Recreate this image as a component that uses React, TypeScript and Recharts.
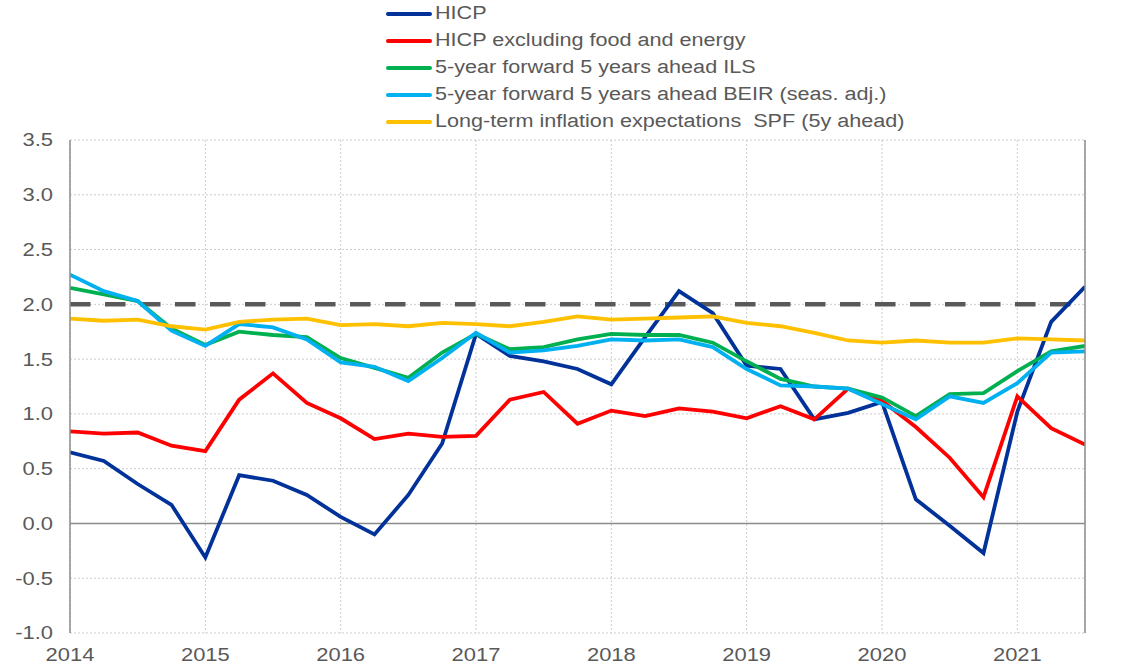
import React from 'react';
import {
    LineChart,
    Line,
    XAxis,
    YAxis,
    CartesianGrid,
    ReferenceLine,
} from 'recharts';

const quarters = [
    '2014Q1', '2014Q2', '2014Q3', '2014Q4',
    '2015Q1', '2015Q2', '2015Q3', '2015Q4',
    '2016Q1', '2016Q2', '2016Q3', '2016Q4',
    '2017Q1', '2017Q2', '2017Q3', '2017Q4',
    '2018Q1', '2018Q2', '2018Q3', '2018Q4',
    '2019Q1', '2019Q2', '2019Q3', '2019Q4',
    '2020Q1', '2020Q2', '2020Q3', '2020Q4',
    '2021Q1', '2021Q2', '2021Q3',
];

const hicp = [
    0.65, 0.57, 0.36, 0.17, -0.31, 0.44, 0.39, 0.26,
    0.06, -0.10, 0.26, 0.73, 1.73, 1.53, 1.48, 1.41,
    1.27, 1.70, 2.12, 1.92, 1.44, 1.41, 0.95, 1.01,
    1.11, 0.22, -0.02, -0.27, 1.02, 1.84, 2.16,
];

const hicpCore = [
    0.84, 0.82, 0.83, 0.71, 0.66, 1.13, 1.37, 1.10,
    0.96, 0.77, 0.82, 0.79, 0.80, 1.13, 1.20, 0.91,
    1.03, 0.98, 1.05, 1.02, 0.96, 1.07, 0.95, 1.23,
    1.12, 0.88, 0.60, 0.24, 1.16, 0.87, 0.72,
];

const ils = [
    2.15, 2.09, 2.03, 1.78, 1.63, 1.75, 1.72, 1.70,
    1.51, 1.42, 1.33, 1.56, 1.73, 1.59, 1.61, 1.68,
    1.73, 1.72, 1.72, 1.65, 1.48, 1.32, 1.25, 1.23,
    1.15, 0.98, 1.18, 1.19, 1.39, 1.57, 1.62,
];

const beir = [
    2.27, 2.12, 2.03, 1.76, 1.62, 1.82, 1.79, 1.68,
    1.47, 1.43, 1.30, 1.51, 1.74, 1.56, 1.58, 1.62,
    1.68, 1.67, 1.68, 1.61, 1.41, 1.26, 1.25, 1.23,
    1.09, 0.95, 1.16, 1.10, 1.28, 1.56, 1.57,
];

const spf = [
    1.87, 1.85, 1.86, 1.80, 1.77, 1.84, 1.86, 1.87,
    1.81, 1.82, 1.80, 1.83, 1.82, 1.80, 1.84, 1.89,
    1.86, 1.87, 1.88, 1.89, 1.83, 1.80, 1.74, 1.67,
    1.65, 1.67, 1.65, 1.65, 1.69, 1.68, 1.67,
];

const yearTicks = [2014, 2015, 2016, 2017, 2018, 2019, 2020, 2021];
const valueTicks = [-1, -0.5, 0, 0.5, 1, 1.5, 2, 2.5, 3, 3.5];
const target = 2;

const series = [
    { key: 'hicp', name: 'HICP', color: '#003299', values: hicp },
    { key: 'core', name: 'HICP excluding food and energy', color: '#FF0000', values: hicpCore },
    { key: 'ils', name: '5-year forward 5 years ahead ILS', color: '#00B050', values: ils },
    { key: 'beir', name: '5-year forward 5 years ahead BEIR (seas. adj.)', color: '#00B0F0', values: beir },
    { key: 'spf', name: 'Long-term inflation expectations  SPF (5y ahead)', color: '#FFC000', values: spf },
];

const data = quarters.map((q, i) => {
    const row: { [k: string]: number } = {
        t: Number(q.slice(0, 4)) + (Number(q.slice(5)) - 1) / 4,
    };
    series.forEach((s) => {
        row[s.key] = s.values[i];
    });
    return row;
});

const FONT = '"Liberation Sans", Arial, sans-serif';
const TEXT = '#595959';
const AXIS = '#8c8c8c';

const AxisTick = (props: any) => {
    const { x, y, payload, textAnchor, kind } = props;
    const label = kind === 'x' ? String(payload.value) : Number(payload.value).toFixed(1);
    return (
        <text
            x={0}
            y={0}
            transform={`translate(${x},${y}) scale(1.22,1)`}
            textAnchor={textAnchor}
            dy={kind === 'x' ? '0.71em' : '0.355em'}
            fill={TEXT}
            fontSize={18}
            fontFamily={FONT}
        >
            {label}
        </text>
    );
};

const LegendBox = () => (
    <div style={{ position: 'absolute', left: 386, top: 0, fontFamily: FONT }}>
        {series.map((s) => (
            <div key={s.key} style={{ height: 27, display: 'flex', alignItems: 'center' }}>
                <div style={{ width: 46, height: 4, background: s.color, borderRadius: 2 }} />
                <div
                    style={{
                        marginLeft: 3,
                        fontSize: 18,
                        color: TEXT,
                        whiteSpace: 'pre',
                        transform: 'scaleX(1.2)',
                        transformOrigin: 'left center',
                    }}
                >
                    {s.name}
                </div>
            </div>
        ))}
    </div>
);

export default function App() {
    return (
        <div style={{ position: 'relative', width: 1142, height: 664 }}>
            <style>{'body{margin:0}'}</style>
            <LineChart
                width={1142}
                height={664}
                data={data}
                margin={{ top: 140, right: 0, left: 0, bottom: 0 }}
            >
                <CartesianGrid stroke="#cccccc" strokeDasharray="2 2" />
                <XAxis
                    dataKey="t"
                    type="number"
                    domain={[2014, 2021.5]}
                    ticks={yearTicks}
                    allowDataOverflow
                    height={31}
                    axisLine={false}
                    tickLine={false}
                    tickSize={6}
                    tickMargin={9}
                    tick={<AxisTick kind="x" />}
                    interval={0}
                />
                <YAxis
                    domain={[-1, 3.5]}
                    ticks={valueTicks}
                    width={70}
                    axisLine={{ stroke: AXIS, strokeWidth: 1.5 }}
                    tickLine={false}
                    tickSize={8}
                    tickMargin={9}
                    tick={<AxisTick kind="y" />}
                    interval={0}
                />
                <YAxis
                    yAxisId="right"
                    orientation="right"
                    domain={[-1, 3.5]}
                    ticks={valueTicks}
                    width={57}
                    axisLine={{ stroke: AXIS, strokeWidth: 1.5 }}
                    tickLine={false}
                    tickSize={8}
                    tickMargin={10}
                    tick={<AxisTick kind="y" />}
                    interval={0}
                />
                <ReferenceLine y={0} stroke={AXIS} strokeWidth={1.5} />
                <ReferenceLine
                    y={target}
                    stroke="#595959"
                    strokeWidth={4.5}
                    strokeDasharray="20.5 14.5"
                />
                {series.map((s) => (
                    <Line
                        key={s.key}
                        type="linear"
                        dataKey={s.key}
                        name={s.name}
                        stroke={s.color}
                        strokeWidth={3.8}
                        dot={false}
                        activeDot={false}
                        isAnimationActive={false}
                    />
                ))}
            </LineChart>
            <LegendBox />
        </div>
    );
}
